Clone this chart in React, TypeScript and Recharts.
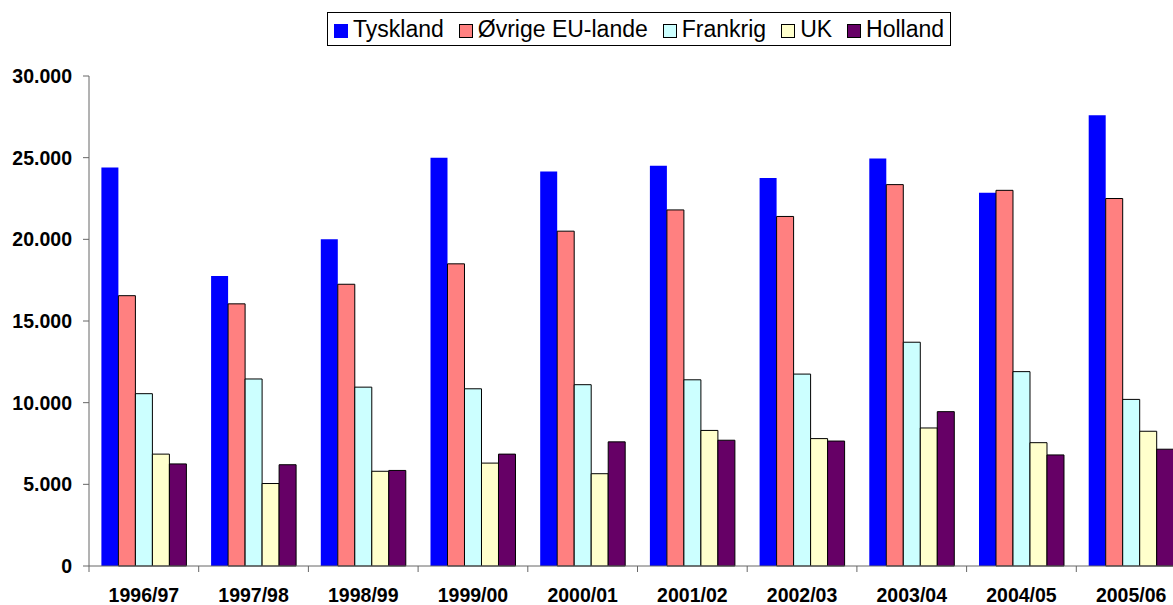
import React from 'react';
import { BarChart, Bar, XAxis, YAxis, Legend } from 'recharts';

const categories = ['1996/97', '1997/98', '1998/99', '1999/00', '2000/01', '2001/02', '2002/03', '2003/04', '2004/05', '2005/06'];
const tyskland = [24400, 17750, 20000, 25000, 24150, 24500, 23750, 24950, 22850, 27600];
const ovrige = [16550, 16050, 17250, 18500, 20500, 21800, 21400, 23350, 23000, 22500];
const frankrig = [10550, 11450, 10950, 10850, 11100, 11400, 11750, 13700, 11900, 10200];
const uk = [6850, 5050, 5800, 6300, 5650, 8300, 7800, 8450, 7550, 8250];
const holland = [6250, 6200, 5850, 6850, 7600, 7700, 7650, 9450, 6800, 7150];
const yTicks = [0, 5000, 10000, 15000, 20000, 25000, 30000];

const series = [
  { key: 'tyskland', name: 'Tyskland', color: '#0000FF', stroke: 'none' },
  { key: 'ovrige', name: 'Øvrige EU-lande', color: '#FF8080', stroke: '#000000' },
  { key: 'frankrig', name: 'Frankrig', color: '#CCFFFF', stroke: '#000000' },
  { key: 'uk', name: 'UK', color: '#FFFFCC', stroke: '#000000' },
  { key: 'holland', name: 'Holland', color: '#660066', stroke: '#000000' },
];

const data = categories.map((c, i) => ({
  cat: c,
  tyskland: tyskland[i],
  ovrige: ovrige[i],
  frankrig: frankrig[i],
  uk: uk[i],
  holland: holland[i],
}));

const FONT = '"Liberation Sans", Arial, sans-serif';
const CHART_W = 1178;
const CHART_H = 597;
const YAXIS_W = 81;
const BAND = (CHART_W - YAXIS_W) / categories.length;
const AXIS_COLOR = '#666666';

const fmt = (v: number) => (v === 0 ? '0' : String(v).replace(/\B(?=(\d{3})+(?!\d))/g, '.'));

const XTick = (props: any) => {
  const { x, y, payload, index } = props;
  const left = x - BAND / 2;
  return (
    <g>
      <line x1={left} y1={y} x2={left} y2={y + 6} stroke={AXIS_COLOR} strokeWidth={1} />
      {index === categories.length - 1 && (
        <line x1={x + BAND / 2} y1={y} x2={x + BAND / 2} y2={y + 6} stroke={AXIS_COLOR} strokeWidth={1} />
      )}
      <text x={x} y={y + 22} dy="0.71em" textAnchor="middle" fontFamily={FONT} fontWeight="bold" fontSize={19.5} fill="#000">
        {payload.value}
      </text>
    </g>
  );
};

const renderLegend = () => (
  <div
    style={{
      display: 'inline-flex',
      alignItems: 'center',
      border: '1px solid #000',
      height: 32,
      padding: '0 6px',
      background: '#fff',
      fontFamily: FONT,
      fontSize: 23,
      lineHeight: '32px',
      color: '#000',
      whiteSpace: 'nowrap',
    }}
  >
    {series.map((s, i) => (
      <div key={s.key} style={{ display: 'flex', alignItems: 'center', marginLeft: i === 0 ? 0 : 15 }}>
        <div
          style={{
            width: 14,
            height: 14,
            boxSizing: 'border-box',
            background: s.color,
            border: s.stroke === 'none' ? 'none' : '1px solid #000',
            position: 'relative',
            top: 2,
            marginRight: 5,
          }}
        />
        <span>{s.name}</span>
      </div>
    ))}
  </div>
);

export default function App() {
  return (
    <div style={{ position: 'fixed', left: 0, top: 0, width: 1173, height: 605, overflow: 'hidden', background: '#fff' }}>
      <div style={{ position: 'absolute', left: 8, top: 8 }}>
        <BarChart
          width={CHART_W}
          height={CHART_H}
          data={data}
          margin={{ top: 68, right: 0, bottom: 0, left: 0 }}
          barCategoryGap="11.3%"
          barGap={0}
        >
          <XAxis
            dataKey="cat"
            height={39}
            axisLine={{ stroke: AXIS_COLOR }}
            tickLine={false}
            tickSize={0}
            tickMargin={0}
            interval={0}
            tick={<XTick />}
          />
          <YAxis
            width={YAXIS_W}
            domain={[0, 30000]}
            ticks={yTicks}
            interval={0}
            tickFormatter={fmt}
            axisLine={{ stroke: AXIS_COLOR }}
            tickLine={{ stroke: AXIS_COLOR }}
            tickSize={6}
            tickMargin={11}
            tick={{ fontFamily: FONT, fontWeight: 'bold', fontSize: 19.5, fill: '#000' }}
          />
          <Legend
            layout="horizontal"
            verticalAlign="middle"
            align="center"
            wrapperStyle={{ top: 4, left: 319, width: 'auto', height: 'auto' }}
            content={renderLegend}
          />
          {series.map((s) => (
            <Bar
              key={s.key}
              dataKey={s.key}
              name={s.name}
              fill={s.color}
              stroke={s.stroke}
              strokeWidth={1}
              isAnimationActive={false}
            />
          ))}
        </BarChart>
      </div>
    </div>
  );
}
